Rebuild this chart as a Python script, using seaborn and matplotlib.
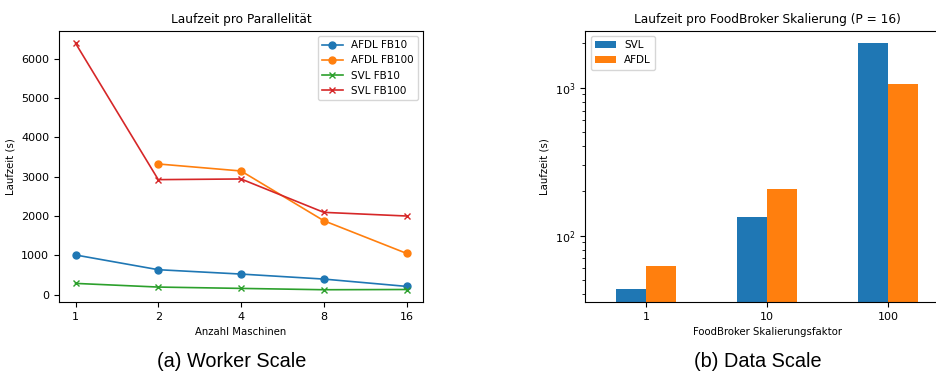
import numpy as np
import pandas as pd
import seaborn as sns
import matplotlib.pyplot as plt
from matplotlib.ticker import FixedLocator, FixedFormatter

# worker scale (left)
maschinen = [1, 2, 4, 8, 16]
afdl_fb10 = [1010, 636, 525, 398, 212]
afdl_fb100 = [np.nan, 3322, 3144, 1881, 1051]
svl_fb10 = [288, 195, 161, 127, 133]
svl_fb100 = [6390, 2924, 2941, 2093, 2000]

# data scale (right)
faktoren = ['1', '10', '100']
svl_scale = [43.3, 133, 2000]
afdl_scale = [62, 206, 1051]

colors = sns.color_palette('tab10')

fig = plt.figure(figsize=(9.36, 3.72), dpi=100)
ax1 = fig.add_axes([0.063, 0.188, 0.389, 0.729])
ax2 = fig.add_axes([0.6255, 0.188, 0.388, 0.729])

series = [
    ('AFDL FB10', afdl_fb10, 'o', colors[0]),
    ('AFDL FB100', afdl_fb100, 'o', colors[1]),
    ('SVL FB10', svl_fb10, 'x', colors[2]),
    ('SVL FB100', svl_fb100, 'x', colors[3]),
]
for name, vals, marker, color in series:
    df = pd.DataFrame({'x': maschinen, 'y': vals}).dropna()
    sns.lineplot(data=df, x='x', y='y', ax=ax1, marker=marker, color=color,
                 label=name, markersize=5, linewidth=1.2,
                 markeredgecolor=color, markeredgewidth=1.0)

ax1.set_xscale('log', base=2)
ax1.xaxis.set_major_locator(FixedLocator(maschinen))
ax1.xaxis.set_major_formatter(FixedFormatter([str(m) for m in maschinen]))
ax1.xaxis.set_minor_locator(FixedLocator([]))
ax1.set_xlabel('Anzahl Maschinen', fontsize=7.3)
ax1.set_ylabel('Laufzeit (s)', fontsize=7.3)
ax1.set_title('Laufzeit pro Parallelität', fontsize=8.7)
ax1.tick_params(labelsize=8)
ax1.legend(loc='upper right', fontsize=7.5)

df2 = pd.DataFrame({
    'faktor': faktoren * 2,
    'laufzeit': svl_scale + afdl_scale,
    'variante': ['SVL'] * 3 + ['AFDL'] * 3,
})
sns.barplot(data=df2, x='faktor', y='laufzeit', hue='variante',
            hue_order=['SVL', 'AFDL'], palette=[colors[0], colors[1]],
            width=0.5, ax=ax2, saturation=1)
ax2.set_yscale('log')
ax2.set_ylim(35.5, 2420)
ax2.set_xlim(-0.5, 2.5)
ax2.set_xlabel('FoodBroker Skalierungsfaktor', fontsize=7.3)
ax2.set_ylabel('Laufzeit (s)', fontsize=7.3)
ax2.set_title('Laufzeit pro FoodBroker Skalierung (P = 16)', fontsize=8.7)
ax2.tick_params(labelsize=8)
ax2.legend(loc='upper left', fontsize=7.5)

fig.text(0.247, 0.027, '(a) Worker Scale', ha='center', va='center',
         fontsize=14.3, family='Liberation Sans')
fig.text(0.81, 0.027, '(b) Data Scale', ha='center', va='center',
         fontsize=14.3, family='Liberation Sans')

fig.savefig('out.png', dpi=100)
